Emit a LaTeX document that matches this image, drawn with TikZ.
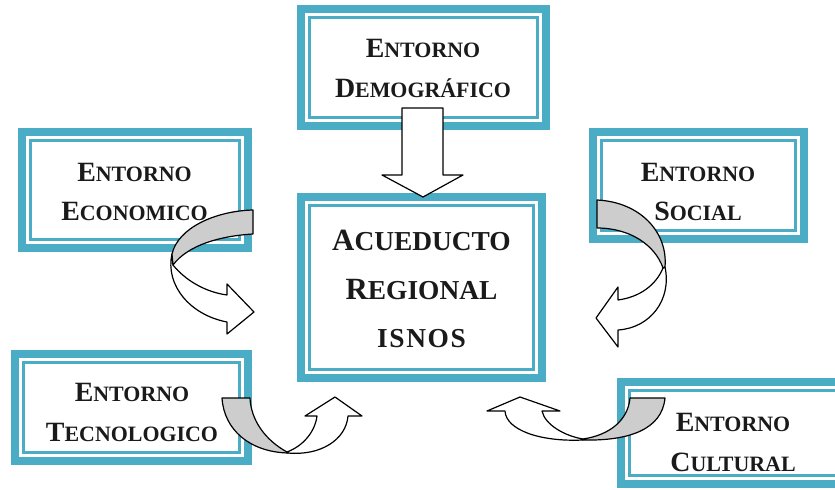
\documentclass[tikz,border=0pt]{standalone}
\usepackage{fontspec}
\setmainfont{Liberation Serif}
\definecolor{boxteal}{HTML}{4BACC6}
\definecolor{bandgray}{HTML}{CDCDCD}
\definecolor{inkgray}{HTML}{1A1A1A}
\newcommand\initcap[1]{{\fontsize{28}{30}\selectfont #1}}
\newcommand\initcapL[1]{{\fontsize{31}{33}\selectfont #1}}
\tikzset{
  envbox/.style={rectangle, draw=boxteal, line width=8bp, fill=white, inner sep=0pt, outer sep=0pt},
  innerline/.style={draw=boxteal, line width=2.2bp},
  lbl/.style={align=center, inner sep=0pt, text=inkgray, font=\bfseries\fontsize{22}{40}\selectfont},
  biglbl/.style={align=center, inner sep=0pt, text=inkgray, font=\bfseries\fontsize{27.5}{48.5}\selectfont},
  band/.style={draw=black, line width=1.2bp, line join=round},
  front/.style={band, fill=white},
  back/.style={band, fill=bandgray}
}
\begin{document}
\begin{tikzpicture}[x=1bp,y=-1bp]
\useasboundingbox (0,0) rectangle (835,490);
\clip (0,0) rectangle (835,490);
% boxes
\node[envbox, minimum width=245bp, minimum height=117bp] (dem) at (423.5,67.5) {};
\node[envbox, minimum width=226bp, minimum height=116bp] (eco) at (135,190) {};
\node[envbox, minimum width=211bp, minimum height=107bp] (soc) at (698.5,185.5) {};
\node[envbox, minimum width=241bp, minimum height=181bp] (cen) at (421.5,287.5) {};
\node[envbox, minimum width=233bp, minimum height=107bp] (tec) at (131.5,407.5) {};
\node[envbox, minimum width=226bp, minimum height=102bp] (cul) at (734,433) {};
\foreach \n in {dem,eco,soc,cen,tec,cul}
  \draw[innerline] ([xshift=8.5bp,yshift=-8.5bp]\n.north west) rectangle ([xshift=-8.5bp,yshift=8.5bp]\n.south east);
% texts
\node[lbl] (demt) at (423,68.5) {\initcap{E}NTORNO\\\initcap{D}EMOGRÁFICO};
\node[lbl] (ecot) at (134.5,192) {\initcap{E}NTORNO\\\initcap{E}CONOMICO};
\node[lbl] (soct) at (698,192) {\initcap{E}NTORNO\\\initcap{S}OCIAL};
\node[biglbl] (cent) at (421.5,289) {\initcapL{A}CUEDUCTO\\\initcapL{R}EGIONAL\\\addfontfeature{LetterSpace=6}ISNOS};
\node[lbl] (tect) at (132,412.5) {\initcap{E}NTORNO\\\initcap{T}ECNOLOGICO};
\node[lbl] (cult) at (733,442.5) {\initcap{E}NTORNO\\\initcap{C}ULTURAL};
% down arrow
\draw[front] (402,108) -- (443,108) -- (443,175) -- (463,175) -- (423,197) -- (382,175) -- (402,175) -- cycle;
% economico arrow
\draw[front] (172,254) .. controls (165,285) and (190,315) .. (227,322) -- (227,334) -- (254,312) -- (227,284) -- (227,295) .. controls (205,292) and (185,280) .. (173,265) -- cycle;
\draw[back] (253,210) .. controls (215,211) and (178,228) .. (172,254) -- (173,265) .. controls (188,245) and (220,236) .. (253,234) -- cycle;
% social arrow
\draw[front] (665,267) .. controls (672,300) and (650,328) .. (618,330) -- (618,347) -- (596,318) -- (618,287) -- (618,300) .. controls (640,297) and (656,285) .. (663,268) -- cycle;
\draw[back] (597,200) .. controls (640,202) and (668,232) .. (665,267) -- (663,268) .. controls (655,245) and (630,228) .. (597,228) -- cycle;
% tecnologico arrow
\draw[front] (288,453) .. controls (320,456) and (346,440) .. (348,416) -- (362,416) -- (335,397) -- (305,416) -- (317,416) .. controls (315,432) and (303,446) .. (287,452) -- cycle;
\draw[back] (222,398) -- (250,398) .. controls (251,420) and (265,440) .. (287,452) -- (288,453) .. controls (250,452) and (224,430) .. (222,398) -- cycle;
% cultural arrow
\draw[front] (583,440) .. controls (540,442) and (506,430) .. (505,411) -- (487,411) -- (520,397) -- (560,411) -- (542,411) .. controls (545,425) and (565,436) .. (583,439) -- cycle;
\draw[back] (630,398) -- (665,398) .. controls (662,430) and (628,441) .. (583,440) -- (583,439) .. controls (610,435) and (628,420) .. (630,398) -- cycle;
\end{tikzpicture}
\end{document}
